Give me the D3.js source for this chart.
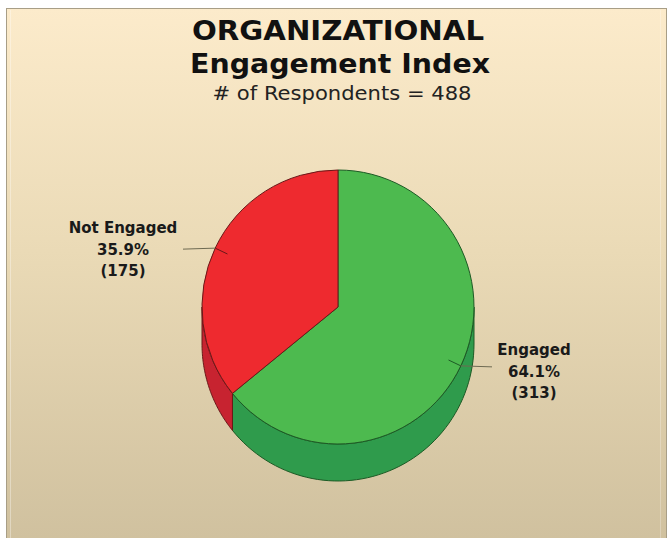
<!DOCTYPE html>
<html>
<head>
<meta charset="utf-8">
<script src="https://cdn.jsdelivr.net/npm/d3@7"></script>
<style>
  html, body { margin: 0; padding: 0; background: #ffffff; }
  svg { display: block; }
</style>
</head>
<body>
<svg id="chart" width="667" height="538"></svg>
<script>
// ---- data ----
const categories = ["Engaged", "Not Engaged"];
const values = [313, 175];
const topColors = ["#4dba4f", "#ee2a2f"];
const sideColors = ["#2f9b4c", "#c72330"];
const edgeColors = ["#1d5a25", "#6a1818"];
const titleLines = ["ORGANIZATIONAL", "Engagement Index"];
const total = d3.sum(values);
const subtitle = "# of Respondents = " + total;

// ---- layout ----
const W = 667, H = 538;
const cx = 338, cy = 307, rx = 136, ry = 137, depth = 37;
const svg = d3.select("#chart");
const defs = svg.append("defs");

const bg = defs.append("linearGradient").attr("id", "bg").attr("x1", 0).attr("y1", 0).attr("x2", 0).attr("y2", 1);
bg.append("stop").attr("offset", "0%").attr("stop-color", "#fcebcb");
bg.append("stop").attr("offset", "45%").attr("stop-color", "#eadab6");
bg.append("stop").attr("offset", "100%").attr("stop-color", "#cfc09e");

svg.append("rect").attr("x", 0).attr("y", 0).attr("width", W).attr("height", H).attr("fill", "#ffffff");
svg.append("rect").attr("x", 6.5).attr("y", 8.5).attr("width", 660).attr("height", 540)
  .attr("fill", "url(#bg)").attr("stroke", "#a89e86").attr("stroke-width", 1);
svg.append("line").attr("x1", 10.5).attr("x2", 10.5).attr("y1", 10).attr("y2", H)
  .attr("stroke", "#ffffff").attr("stroke-opacity", 0.35);
svg.append("line").attr("x1", 660.5).attr("x2", 660.5).attr("y1", 10).attr("y2", H)
  .attr("stroke", "#ffffff").attr("stroke-opacity", 0.25);

// ---- titles ----
svg.append("text").attr("x", 338).attr("y", 40).attr("text-anchor", "middle")
  .attr("font-family", "DejaVu Sans").attr("font-weight", "bold").attr("font-size", 27)
  .attr("textLength", 292).attr("lengthAdjust", "spacingAndGlyphs")
  .attr("fill", "#111").text(titleLines[0]);
svg.append("text").attr("x", 340).attr("y", 73).attr("text-anchor", "middle")
  .attr("font-family", "DejaVu Sans").attr("font-weight", "bold").attr("font-size", 27)
  .attr("textLength", 300).attr("lengthAdjust", "spacingAndGlyphs")
  .attr("fill", "#111").text(titleLines[1]);
svg.append("text").attr("x", 342).attr("y", 100).attr("text-anchor", "middle")
  .attr("font-family", "DejaVu Sans").attr("font-size", 20)
  .attr("textLength", 259).attr("lengthAdjust", "spacingAndGlyphs")
  .attr("fill", "#222").text(subtitle);

// ---- pie ----
const data = categories.map((c, i) => ({ cat: c, value: values[i], i }));
const pie = d3.pie().sort(null).value(d => d.value);
const arcs = pie(data);
const k = ry / rx;
const arc = d3.arc().innerRadius(0).outerRadius(rx);

const P = (a, dy = 0) => [cx + rx * Math.sin(a), cy - ry * Math.cos(a) + dy];

// sides (visible front half: angles PI/2 .. 3PI/2)
const sideG = svg.append("g");
arcs.forEach(a => {
  const a0 = Math.max(a.startAngle, Math.PI / 2);
  const a1 = Math.min(a.endAngle, 3 * Math.PI / 2);
  if (a1 <= a0) return;
  const n = 60;
  const topPts = d3.range(n + 1).map(j => P(a0 + (a1 - a0) * j / n));
  const botPts = d3.range(n + 1).map(j => P(a1 - (a1 - a0) * j / n, depth));
  sideG.append("path")
    .attr("d", d3.line()(topPts.concat(botPts)) + "Z")
    .attr("fill", sideColors[a.data.i])
    .attr("stroke", edgeColors[a.data.i]).attr("stroke-width", 1).attr("stroke-linejoin", "round");
});

// top faces
svg.append("g").attr("transform", `translate(${cx},${cy}) scale(1,${k})`)
  .selectAll("path").data(arcs).join("path")
  .attr("d", arc)
  .attr("fill", d => topColors[d.data.i])
  .attr("stroke", d => edgeColors[d.data.i])
  .attr("stroke-width", 1).attr("vector-effect", "non-scaling-stroke")
  .attr("stroke-linejoin", "round");

// ---- labels ----
const labelCfg = [
  { x: 534, y: 355, ext: 492 },
  { x: 123, y: 233, ext: 183 }
];
arcs.forEach(a => {
  const cfg = labelCfg[a.data.i];
  const mid = (a.startAngle + a.endAngle) / 2;
  const inner = [cx + 0.9 * rx * Math.sin(mid), cy - 0.9 * ry * Math.cos(mid)];
  const rim = P(mid);
  svg.append("path")
    .attr("d", d3.line()([inner, rim]))
    .attr("stroke", edgeColors[a.data.i]).attr("stroke-width", 1).attr("fill", "none");
  svg.append("path")
    .attr("d", d3.line()([rim, [cfg.ext, rim[1] + 1]]))
    .attr("stroke", "#6e6a52").attr("stroke-width", 1).attr("fill", "none");
  const pct = d3.format(".1f")(a.data.value / total * 100) + "%";
  const lines = [a.data.cat, pct, "(" + a.data.value + ")"];
  const t = svg.append("text").attr("text-anchor", "middle")
    .attr("font-family", "DejaVu Sans").attr("font-weight", "bold").attr("font-size", 15)
    .attr("fill", "#1a1a1a");
  lines.forEach((s, j) => {
    t.append("tspan").attr("x", cfg.x).attr("y", cfg.y + j * 21.5).text(s);
  });
});
</script>
</body>
</html>
